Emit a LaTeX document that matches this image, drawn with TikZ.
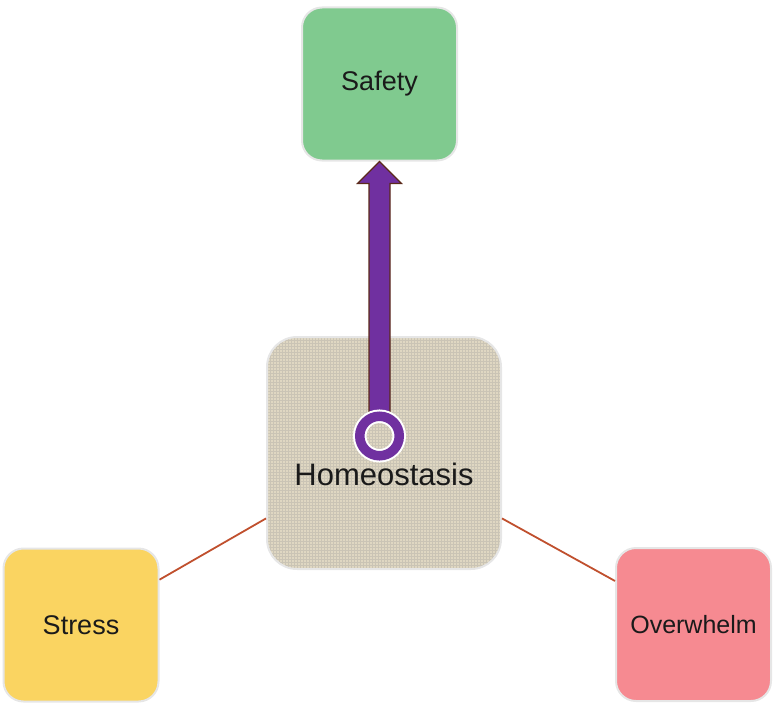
\documentclass[tikz,border=0pt]{standalone}
\usepackage{fontspec}
\setmainfont{Liberation Sans}
\usetikzlibrary{calc,patterns}
\definecolor{safetygreen}{HTML}{80CA8F}
\definecolor{stressyellow}{HTML}{FAD461}
\definecolor{overpink}{HTML}{F68A91}
\definecolor{linen}{HTML}{DFD7C2}
\definecolor{linendark}{HTML}{9E9478}
\definecolor{boxedge}{HTML}{E6E6E6}
\definecolor{linkcol}{HTML}{C0502E}
\definecolor{arrowpurple}{HTML}{7030A0}
\definecolor{arrowedge}{HTML}{5B2A1A}
\definecolor{txt}{HTML}{1A1A1A}
\tikzset{
  box/.style={rectangle, rounded corners=20pt, draw=boxedge, line width=2pt,
    minimum width=155pt, minimum height=153pt, inner sep=0pt, text=txt,
    font=\fontsize{27}{32}\selectfont},
  centrebox/.style={rectangle, rounded corners=30pt, draw=boxedge, line width=2pt,
    minimum width=234pt, minimum height=232pt, inner sep=0pt, text=txt,
    preaction={fill=linen}, pattern=grid, pattern color=linendark!55,
    font=\fontsize{31}{36}\selectfont},
  link/.style={draw=linkcol, line width=1.8pt},
  blockarrow/.style={fill=arrowpurple, draw=arrowedge, line width=1.2pt, line join=miter},
  ringstyle/.style={circle, minimum size=39.5pt, inner sep=0pt, draw=arrowpurple,
    line width=9.5pt, preaction={draw=white, line width=13.5pt}}
}
\begin{document}
\begin{tikzpicture}[x=1pt,y=1pt]
\useasboundingbox (0,0) rectangle (775,-709);
\node[box, fill=safetygreen] (safety) at (379.5,-84) {Safety};
\node[centrebox] (homeo) at (384,-453) {\raisebox{-32pt}[0pt][0pt]{Homeostasis}};
\node[box, fill=stressyellow] (stress) at (81,-625) {Stress};
\node[box, fill=overpink, font=\fontsize{25}{30}\selectfont] (over) at (693.5,-624.5) {Overwhelm};
\draw[link] (stress.30) -- (homeo.209);
\draw[link] (over.151) -- (homeo.331);
\coordinate (rc) at (379.5,-436);
\draw[blockarrow] ($(rc)+(-10.5,18)$) -- ($(safety.south)+(-10.5,-22)$)
  -- ($(safety.south)+(-22,-22)$) -- (safety.south)
  -- ($(safety.south)+(22,-22)$) -- ($(safety.south)+(10.5,-22)$)
  -- ($(rc)+(10.5,18)$) -- cycle;
\node[ringstyle] (ring) at (rc) {};
\end{tikzpicture}
\end{document}
